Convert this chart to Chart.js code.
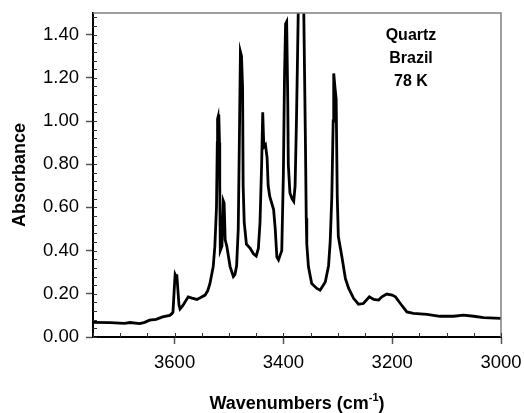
<!DOCTYPE html>
<html>
<head>
<meta charset="utf-8">
<script src="https://cdn.jsdelivr.net/npm/chart.js@4"></script>
<style>
html, body { margin: 0; padding: 0; background: #fff; }
#wrap { width: 524px; height: 413px; }
</style>
</head>
<body>
<div id="wrap"><canvas id="spectrum"></canvas></div>
<script>
// spectrum (wavenumber, absorbance)
var wavenumbers = [3750, 3719, 3692, 3682, 3664, 3655, 3646, 3634, 3622, 3609, 3605, 3603,
  3600, 3599, 3597, 3596, 3594, 3592, 3590, 3585, 3575, 3568, 3559, 3552, 3544, 3539, 3535,
  3529, 3526, 3523, 3521.5, 3521, 3520, 3519, 3518.5, 3517.5, 3517, 3516, 3513, 3510.5, 3509, 3507, 3504, 3498,
  3492, 3489, 3486, 3483, 3481, 3479, 3477, 3475, 3474, 3472, 3468, 3461, 3455, 3450, 3446,
  3443, 3440, 3438, 3436, 3433, 3430, 3428, 3425, 3418, 3415, 3412, 3409, 3403, 3400, 3398,
  3396, 3394, 3392, 3391, 3388, 3384, 3381, 3378.5, 3376, 3374, 3372, 3369, 3366, 3363,
  3361, 3359.5, 3358, 3357, 3354, 3348, 3338.5, 3332.5, 3323, 3317, 3314, 3311, 3308.5,
  3307.5, 3305, 3303, 3301, 3299, 3292.5, 3286, 3280, 3271, 3262, 3253, 3242, 3234, 3225,
  3219, 3210, 3200, 3194, 3185, 3173, 3161, 3136, 3112, 3087, 3069, 3050, 3032, 3000];
var absorbance = [0.068, 0.067, 0.063, 0.067, 0.062, 0.068, 0.078, 0.082, 0.093, 0.100, 0.108, 0.115,
  0.25, 0.29, 0.28, 0.29, 0.22, 0.15, 0.13, 0.145, 0.186, 0.18, 0.174, 0.183, 0.194, 0.215, 0.248,
  0.326, 0.42, 0.60, 0.90, 1.01, 1.02, 0.95, 1.03, 0.90, 0.70, 0.40, 0.42, 0.63, 0.62, 0.45, 0.42, 0.326,
  0.28, 0.29, 0.33, 0.50, 0.90, 1.32, 1.30, 1.15, 0.70, 0.53, 0.43, 0.41, 0.385, 0.375, 0.41,
  0.53, 0.80, 1.04, 0.88, 0.89, 0.83, 0.70, 0.65, 0.59, 0.50, 0.37, 0.357, 0.40, 0.76, 1.20,
  1.45, 1.46, 1.10, 0.80, 0.667, 0.64, 0.628, 0.70, 1.00, 1.30, 1.62, 1.80, 1.80, 1.60,
  1.20, 0.90, 0.55, 0.43, 0.326, 0.248, 0.225, 0.217, 0.255, 0.33, 0.44, 0.65, 1.00,
  1.22, 1.15, 1.10, 0.65, 0.465, 0.372, 0.27, 0.225, 0.179, 0.152, 0.155, 0.186, 0.174, 0.171,
  0.186, 0.199, 0.194, 0.186, 0.155, 0.116, 0.109, 0.105, 0.096, 0.096, 0.101, 0.096, 0.09, 0.086];

var xTicks = [3600, 3400, 3200, 3000];
var yTicks = [0, 0.2, 0.4, 0.6, 0.8, 1.0, 1.2, 1.4];
var noteLines = ['Quartz', 'Brazil', '78 K'];
var xTitle = 'Wavenumbers (cm';
var xTitleSup = '-1';

var points = wavenumbers.map(function(w, i) { return {x: w, y: absorbance[i]}; });

// frame, inner minor ticks, note and x title with superscript
var extras = {
  id: 'extras',
  afterDatasetsDraw: function(chart) {
    var ctx = chart.ctx, a = chart.chartArea;
    var x = chart.scales.x, y = chart.scales.y;
    ctx.save();
    ctx.strokeStyle = '#808080';
    ctx.lineWidth = 1.5;
    ctx.beginPath();
    ctx.moveTo(a.left, a.top);
    ctx.lineTo(a.right, a.top);
    ctx.lineTo(a.right, a.bottom);
    ctx.stroke();

    ctx.strokeStyle = '#333';
    ctx.lineWidth = 1;
    ctx.beginPath();
    for (var v = x.min; v <= x.max; v += 50) {
      var px = Math.round(x.getPixelForValue(v)) + 0.5;
      ctx.moveTo(px, a.bottom);
      ctx.lineTo(px, a.bottom - 4);
    }
    for (var k = 0; k * 0.04 <= y.max + 1e-9; k++) {
      var py = Math.round(y.getPixelForValue(k * 0.04)) + 0.5;
      ctx.moveTo(a.left, py);
      ctx.lineTo(a.left + 4, py);
    }
    ctx.stroke();

    ctx.fillStyle = '#000';
    ctx.font = 'bold 16px "Liberation Sans", Arial, sans-serif';
    ctx.textAlign = 'center';
    ctx.textBaseline = 'alphabetic';
    noteLines.forEach(function(t, i) {
      ctx.fillText(t, a.right - 90, a.top + 27 + i * 23);
    });

    // axis title with superscript
    ctx.font = 'bold 18px "Liberation Sans", Arial, sans-serif';
    var w1 = ctx.measureText(xTitle).width;
    ctx.font = 'bold 11px "Liberation Sans", Arial, sans-serif';
    var w2 = ctx.measureText(xTitleSup).width;
    ctx.font = 'bold 18px "Liberation Sans", Arial, sans-serif';
    var w3 = ctx.measureText(')').width;
    var start = (a.left + a.right) / 2 - (w1 + w2 + w3) / 2;
    var base = chart.height - 4;
    ctx.textAlign = 'left';
    ctx.fillText(xTitle, start, base);
    ctx.font = 'bold 11px "Liberation Sans", Arial, sans-serif';
    ctx.fillText(xTitleSup, start + w1, base - 8);
    ctx.font = 'bold 18px "Liberation Sans", Arial, sans-serif';
    ctx.fillText(')', start + w1 + w2, base);
    ctx.restore();
  }
};

new Chart(document.getElementById('spectrum'), {
  type: 'line',
  data: {
    datasets: [{
      data: points,
      borderColor: '#000',
      borderWidth: 2.8,
      pointRadius: 0,
      tension: 0,
      fill: false
    }]
  },
  options: {
    responsive: true,
    maintainAspectRatio: false,
    animation: false,
    layout: { padding: { top: 13, right: 23, left: 0, bottom: 0 } },
    plugins: { legend: { display: false }, tooltip: { enabled: false } },
    scales: {
      x: {
        type: 'linear',
        min: 3000,
        max: 3750,
        reverse: true,
        afterBuildTicks: function(scale) {
          scale.ticks = xTicks.map(function(v) { return {value: v}; });
        },
        afterFit: function(scale) {
          scale.height = 76;
          scale.paddingLeft = 0;
          scale.paddingRight = 0;
        },
        grid: { drawOnChartArea: false, drawTicks: true, tickLength: 7, color: '#555', tickWidth: 1.5 },
        border: { display: true, color: '#000', width: 2 },
        ticks: {
          color: '#000',
          font: { family: '"Liberation Sans", Arial, sans-serif', size: 18.5 },
          padding: 8,
          maxRotation: 0,
          callback: function(v) { return String(v); }
        }
      },
      y: {
        min: 0,
        max: 1.5,
        afterBuildTicks: function(scale) {
          scale.ticks = yTicks.map(function(v) { return {value: v}; });
        },
        afterFit: function(scale) {
          scale.width = 93;
          scale.paddingTop = 0;
          scale.paddingBottom = 0;
        },
        grid: { drawOnChartArea: false, drawTicks: true, tickLength: 7, color: '#555', tickWidth: 1.5 },
        border: { display: true, color: '#000', width: 2 },
        ticks: {
          color: '#000',
          font: { family: '"Liberation Sans", Arial, sans-serif', size: 18.5 },
          padding: 7,
          callback: function(v) { return Number(v).toFixed(2); }
        },
        title: {
          display: true,
          text: 'Absorbance',
          color: '#000',
          font: { family: '"Liberation Sans", Arial, sans-serif', size: 18, weight: 'bold' },
          padding: { top: 9, bottom: 0 }
        }
      }
    }
  },
  plugins: [extras]
});
</script>
</body>
</html>
